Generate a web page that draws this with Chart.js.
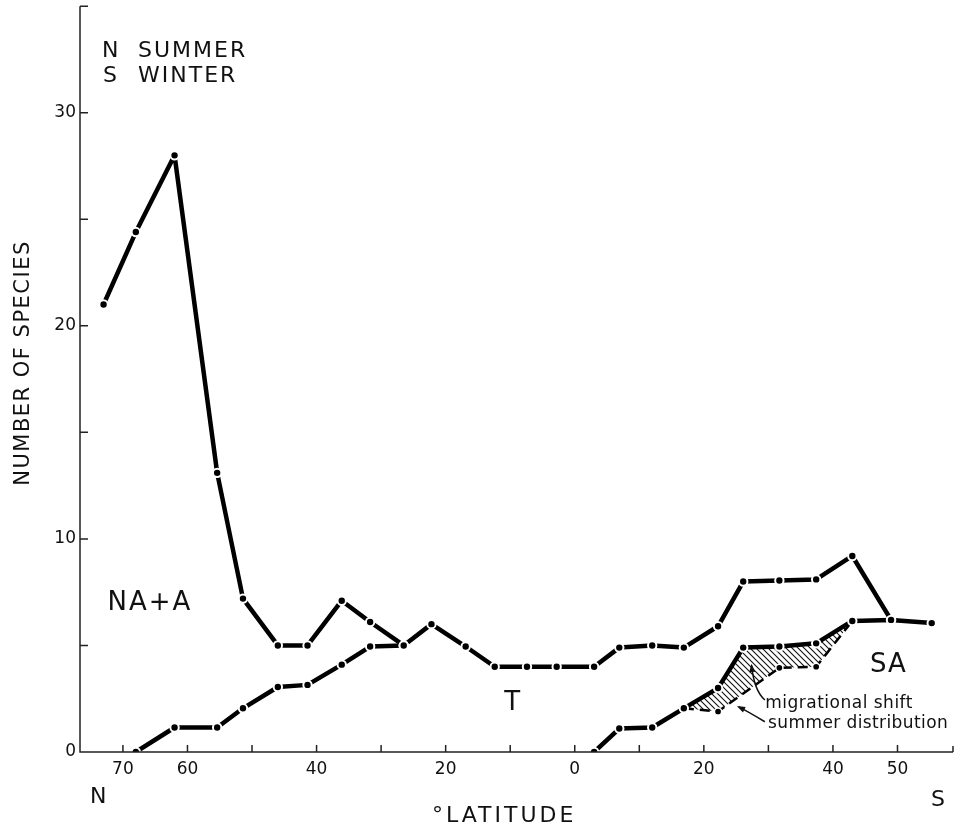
<!DOCTYPE html>
<html>
<head>
<meta charset="utf-8">
<script src="https://cdn.jsdelivr.net/npm/chart.js@4.4.1/dist/chart.umd.min.js"></script>
<style>
  html, body { margin: 0; padding: 0; background: #fff; }
  #wrap { width: 960px; height: 825px; }
</style>
</head>
<body>
<div id="wrap"><canvas id="speciesChart" width="960" height="825"></canvas></div>
<script>
// band positions along the latitude axis (N negative, S positive)
const bandLat = [-73, -68, -62, -55.4, -51.4, -46, -41.4, -36.1, -31.7, -26.5, -22.2, -16.9, -12.4,
  -7.4, -2.8, 3.0, 6.9, 12.0, 16.9, 22.2, 26.1, 31.7, 37.4, 43.0, 49.0, 55.3];

// number of species per band
const arcticSpecies = [21, 24.4, 28, 13.1, 7.2, 5.0, 5.0, 7.1, 6.1, 5.0,
  null, null, null, null, null, null, null, null, null, null, null, null, null, null, null, null];
const tropicalSpecies = [null, 0, 1.15, 1.15, 2.05, 3.05, 3.15, 4.1, 4.95, 5.0, 6.0, 4.95, 4.0,
  4.0, 4.0, 4.0, 4.9, 5.0, 4.9, 5.9, 8.0, 8.05, 8.1, 9.2, 6.2, null];
const antarcticWinter = [null, null, null, null, null, null, null, null, null, null, null, null, null,
  null, null, 0, 1.1, 1.15, 2.05, 3.0, 4.9, 4.95, 5.1, 6.15, 6.2, 6.05];
const antarcticSummer = [null, null, null, null, null, null, null, null, null, null, null, null, null,
  null, null, null, null, null, 2.05, 1.9, null, 3.95, 4.0, 6.15, null, null];

// axis ticks
const latTicks = [-70, -60, -50, -40, -30, -20, -10, 0, 10, 20, 30, 40, 50];
const latLabelled = [-70, -60, -40, -20, 0, 20, 40, 50];
const speciesTicks = [0, 5, 10, 15, 20, 25, 30, 35];
const speciesLabelled = [0, 10, 20, 30];

const FONT = '"DejaVu Sans", "Liberation Sans", sans-serif';
const INK = '#111';

function series(vals) {
  return bandLat.map((x, i) => ({ x, y: vals[i] })).filter(p => p.y !== null);
}

function hatchPattern() {
  const c = document.createElement('canvas');
  c.width = 6; c.height = 6;
  const g = c.getContext('2d');
  g.strokeStyle = '#111';
  g.lineWidth = 1.1;
  g.beginPath();
  g.moveTo(-1, -1); g.lineTo(7, 7);
  g.moveTo(-1, 5); g.lineTo(1, 7);
  g.moveTo(5, -1); g.lineTo(7, 1);
  g.stroke();
  return g.createPattern(c, 'repeat');
}

const solid = {
  borderColor: '#000',
  borderWidth: 4.5,
  borderJoinStyle: 'round',
  pointRadius: 4.2,
  pointBorderWidth: 2,
  pointBorderColor: '#fff',
  pointBackgroundColor: '#000',
  fill: false,
};

function text(ctx, s, px, py, size, align, spacing) {
  ctx.font = size + 'px ' + FONT;
  ctx.letterSpacing = (spacing || 0) + 'px';
  ctx.textAlign = align || 'left';
  ctx.textBaseline = 'alphabetic';
  ctx.fillText(s, px, py);
}

function arrow(ctx, p0, c, p1) {
  ctx.beginPath();
  ctx.moveTo(p0[0], p0[1]);
  ctx.quadraticCurveTo(c[0], c[1], p1[0], p1[1]);
  ctx.stroke();
  const ang = Math.atan2(p1[1] - c[1], p1[0] - c[0]);
  ctx.beginPath();
  ctx.moveTo(p1[0] + 2 * Math.cos(ang), p1[1] + 2 * Math.sin(ang));
  ctx.lineTo(p1[0] - 7 * Math.cos(ang - 0.45), p1[1] - 7 * Math.sin(ang - 0.45));
  ctx.lineTo(p1[0] - 7 * Math.cos(ang + 0.45), p1[1] - 7 * Math.sin(ang + 0.45));
  ctx.closePath();
  ctx.fill();
}

const axesAndNotes = {
  id: 'axesAndNotes',
  afterDatasetsDraw(chart) {
    const { ctx, chartArea: a, scales: { x, y } } = chart;
    ctx.save();
    ctx.strokeStyle = '#222';
    ctx.lineWidth = 1.5;
    ctx.beginPath();
    ctx.moveTo(a.left, a.top);
    ctx.lineTo(a.left, a.bottom);
    ctx.lineTo(a.right, a.bottom);
    speciesTicks.forEach(v => {
      const py = y.getPixelForValue(v);
      ctx.moveTo(a.left, py);
      ctx.lineTo(a.left + 8, py);
    });
    latTicks.forEach(v => {
      const px = x.getPixelForValue(v);
      ctx.moveTo(px, a.bottom);
      ctx.lineTo(px, a.bottom - 7);
    });
    ctx.moveTo(a.right, a.bottom);
    ctx.lineTo(a.right, a.bottom - 6);
    ctx.stroke();
    ctx.restore();
  },
  afterDraw(chart) {
    const { ctx, chartArea: a, scales: { x, y } } = chart;
    const P = (lx, ly) => [x.getPixelForValue(lx), y.getPixelForValue(ly)];
    ctx.save();
    ctx.fillStyle = INK;

    // key
    text(ctx, 'N', a.left + 22, a.top + 51, 22);
    text(ctx, 'SUMMER', a.left + 58, a.top + 51, 22, 'left', 2);
    text(ctx, 'S', a.left + 23, a.top + 76, 22);
    text(ctx, 'WINTER', a.left + 58, a.top + 76, 22, 'left', 2);

    // curve labels
    let p = P(-72.4, 6.66);
    text(ctx, 'NA+A', p[0], p[1], 26, 'left', 2);
    p = P(-9.7, 1.97);
    text(ctx, 'T', p[0], p[1], 26, 'center');
    p = P(45.75, 3.75);
    text(ctx, 'SA', p[0], p[1], 26, 'left', 1);
    p = P(29.5, 2.06);
    text(ctx, 'migrational shift', p[0], p[1], 17, 'left', 0.5);
    p = P(29.95, 1.13);
    text(ctx, 'summer distribution', p[0], p[1], 17, 'left', 0.4);

    ctx.strokeStyle = '#111';
    ctx.lineWidth = 1.5;
    arrow(ctx, P(29.45, 2.44), P(27.8, 2.87), P(27.4, 4.05));
    arrow(ctx, P(29.45, 1.42), P(26.9, 1.89), P(25.4, 2.12));

    // axis ends and titles
    text(ctx, 'N', a.left + 10, a.bottom + 51, 22);
    text(ctx, 'S', a.right - 22, a.bottom + 54, 22);
    text(ctx, '°LATITUDE', 432, a.bottom + 70, 22, 'left', 3);

    ctx.translate(29, 363);
    ctx.rotate(-Math.PI / 2);
    text(ctx, 'NUMBER OF SPECIES', 0, 0, 21, 'center', 1.5);
    ctx.restore();
  }
};

new Chart(document.getElementById('speciesChart'), {
  type: 'line',
  data: {
    datasets: [
      { label: 'NA+A', data: series(arcticSpecies), ...solid },
      { label: 'T', data: series(tropicalSpecies), ...solid },
      { label: 'SA winter', data: series(antarcticWinter), ...solid },
      {
        label: 'SA summer',
        data: series(antarcticSummer),
        borderColor: '#000',
        borderWidth: 2.5,
        borderDash: [10, 6],
        pointRadius: 3.6,
        pointBorderWidth: 1.5,
        pointBorderColor: '#fff',
        pointBackgroundColor: '#000',
        backgroundColor: hatchPattern(),
        fill: 2,
      },
    ],
  },
  options: {
    responsive: false,
    animation: false,
    layout: { padding: { top: 6, right: 7, left: 0, bottom: 0 } },
    plugins: { legend: { display: false }, tooltip: { enabled: false } },
    scales: {
      x: {
        type: 'linear',
        min: -76.65,
        max: 58.6,
        grid: { display: false, drawTicks: false },
        border: { display: false },
        afterBuildTicks: s => { s.ticks = latTicks.map(v => ({ value: v })); },
        afterFit: s => { s.height = 73; s.paddingLeft = 0; s.paddingRight = 0; },
        ticks: {
          autoSkip: false,
          maxRotation: 0,
          padding: 7,
          color: INK,
          font: { family: FONT, size: 17 },
          callback: v => latLabelled.includes(v) ? String(Math.abs(v)) : '',
        },
      },
      y: {
        type: 'linear',
        min: 0,
        max: 35,
        grid: { display: false, drawTicks: false },
        border: { display: false },
        afterBuildTicks: s => { s.ticks = speciesTicks.map(v => ({ value: v })); },
        afterFit: s => { s.width = 80; s.paddingTop = 0; s.paddingBottom = 0; },
        ticks: {
          padding: 4,
          color: INK,
          font: { family: FONT, size: 17 },
          callback: v => speciesLabelled.includes(v) ? String(v) : '',
        },
      },
    },
  },
  plugins: [axesAndNotes],
});
</script>
</body>
</html>
